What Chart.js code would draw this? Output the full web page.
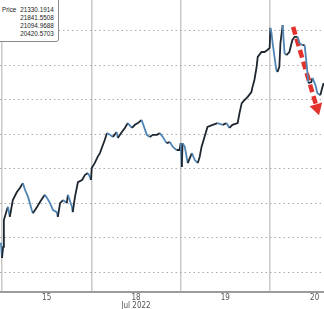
<!DOCTYPE html>
<html>
<head>
<meta charset="utf-8">
<script src="https://cdn.jsdelivr.net/npm/chart.js@4/dist/chart.umd.min.js"></script>
<style>
  html, body { margin: 0; padding: 0; background: #fff; }
  #wrap { position: relative; width: 324px; height: 309px; overflow: hidden; }
  #legendBox {
    position: absolute; left: -3px; top: -3px; width: 62px; height: 45px;
    box-sizing: border-box;
    background: #fff; border: 1px solid #8a8a8a; border-radius: 3px;
  }
  #legendRows {
    position: absolute; left: 4px; top: 8px; width: 63px;
    transform: scaleX(0.82); transform-origin: 0 0;
    font: 7.7px 'Liberation Sans', Arial, sans-serif;
    color: #222; line-height: 8px;
  }
  #legendRows div { text-align: right; height: 8px; }
  #legendRows div.first { display: flex; justify-content: space-between; }
</style>
</head>
<body>
<div id="wrap">
  <canvas id="chart" width="324" height="309"></canvas>
  <div id="legendBox"><div id="legendRows"></div></div>
</div>
<script>
  // session hours since open of Jul 15 (each trading day = 24 units)
  const hours = [
    -0.3, 0.0, 0.3, 0.5, 1.3, 1.6, 2.1, 2.9, 4.0, 4.8, 5.6, 6.2, 7.0, 8.0, 8.3, 9.4, 10.2, 11.5,
    12.1, 12.9, 13.7, 14.7, 15.0, 15.6, 16.4, 17.4, 17.7, 18.8, 19.0, 19.6, 20.4, 21.5, 22.3, 23.1, 23.6, 23.9,
    24.1, 24.9, 25.7, 26.3, 26.8, 27.6, 28.2, 29.0, 29.8, 30.8, 31.1, 32.2, 33.0, 33.8, 34.9, 35.7,
    36.5, 37.5, 37.8, 38.9, 39.7, 40.5, 41.6, 42.4, 43.2, 44.2, 45.1, 45.9, 46.9, 47.7,
    48.0, 48.3, 48.5, 49.1, 49.9, 51.0, 51.8, 52.6, 53.1, 53.6, 54.4, 55.2, 56.6, 57.9, 59.3,
    60.3, 61.1, 61.9, 63.3, 63.8, 64.4, 65.2, 66.0, 67.0, 67.3, 67.8, 68.4, 68.7, 69.7, 70.5, 71.3, 71.9,
    72.1, 72.4, 72.7, 73.2, 73.7, 74.0, 74.5, 74.8, 75.4, 75.6, 75.9, 76.4, 77.2, 78.0, 78.6, 79.4,
    79.9, 80.7, 81.3, 81.8, 82.3, 83.1, 83.4, 84.2, 84.7, 85.5, 86.1, 86.4
  ];
  const prices = [
    20930, 20710, 20870, 21260, 21405, 21450, 21305, 21550, 21665, 21725, 21795, 21695, 21595, 21405, 21360, 21450, 21520, 21625,
    21580, 21505, 21405, 21375, 21305, 21505, 21550, 21505, 21625, 21450, 21375, 21595, 21810, 21840, 21915, 21940, 21885, 21840,
    22015, 22085, 22175, 22230, 22305, 22420, 22520, 22495, 22465, 22535, 22450, 22535, 22595, 22665, 22595, 22640,
    22665, 22710, 22665, 22495, 22465, 22495, 22495, 22520, 22465, 22375, 22390, 22320, 22275, 22275,
    22375, 22030, 22375, 22320, 22085, 22230, 22130, 22085, 22175, 22320, 22465, 22610, 22640, 22665, 22640,
    22665, 22595, 22640, 22665, 22810, 22955, 23000, 23045, 23115, 23190, 23290, 23480, 23625, 23695, 23695, 23725, 23755,
    24045, 23970, 23825, 23625, 23435, 23405, 23480, 23825, 24085, 23915, 23680, 23650, 23695, 23870, 23915, 23915,
    23825, 23795, 23795, 23535, 23245, 23260, 23320, 23215, 23100, 23070, 23190, 23245
  ];

  // red trend arrow (start, head)
  const arrowHours = [78.2, 84.6];
  const arrowPrices = [24058, 22884];

  const dayTicks = [0, 12, 24, 36, 48, 60, 72, 84];
  const dayLabels = { 12: '15', 36: ['18', 'Jul 2022'], 60: '19', 84: '20' };
  const priceTicks = [20500, 21000, 21500, 22000, 22500, 23000, 23500, 24000];

  const legendLabel = 'Price';
  const legendValues = ['21330.1914', '21841.5508', '21094.9688', '20420.5703'];

  const UP = '#1e2630';
  const DOWN = '#4f86b5';
  const FONT = "'Liberation Sans Narrow', 'DejaVu Sans Condensed', sans-serif";

  // legend box
  document.getElementById('legendRows').innerHTML = legendValues.map((v, i) =>
    i === 0 ? `<div class="first"><span>${legendLabel}</span><span>${v}</span></div>` : `<div>${v}</div>`
  ).join('');

  new Chart(document.getElementById('chart').getContext('2d'), {
    type: 'line',
    data: {
      datasets: [
        {
          data: hours.map((h, i) => ({ x: h, y: prices[i] })),
          borderColor: DOWN,
          borderWidth: 1.8,
          pointRadius: 0,
          tension: 0,
          segment: {
            borderColor: ctx => ctx.p1.parsed.y >= ctx.p0.parsed.y ? UP : DOWN
          }
        },
        {
          data: arrowHours.map((h, i) => ({ x: h, y: arrowPrices[i] })),
          borderColor: '#e3312b',
          backgroundColor: '#e3312b',
          borderWidth: 4.5,
          borderDash: [8, 4],
          pointStyle: 'triangle',
          pointRadius: [0, 7.5],
          pointBorderWidth: 0,
          rotation: 163.5,
          clip: false
        }
      ]
    },
    options: {
      responsive: false,
      animation: false,
      layout: { padding: 0, autoPadding: false },
      plugins: { legend: { display: false }, tooltip: { enabled: false } },
      scales: {
        x: {
          type: 'linear',
          min: -0.54,
          max: 86.5,
          afterBuildTicks: s => { s.ticks = dayTicks.map(v => ({ value: v })); },
          afterFit: s => { s.paddingLeft = 0; s.paddingRight = 0; s.height = 17; },
          grid: {
            color: c => (c.tick && c.tick.value % 24 === 0) ? '#c9c9c9' : 'rgba(0,0,0,0)',
            lineWidth: 1.5,
            drawTicks: false
          },
          border: { display: true, color: '#9c9c9c', width: 2 },
          ticks: {
            autoSkip: false,
            maxRotation: 0,
            padding: 2,
            color: '#555',
            font: { family: FONT, size: 8, lineHeight: 1 },
            callback: v => dayLabels[v] || ''
          }
        },
        y: {
          min: 20217,
          max: 24449,
          afterBuildTicks: s => { s.ticks = priceTicks.map(v => ({ value: v })); },
          afterFit: s => { s.width = 0; s.paddingTop = 0; s.paddingBottom = 0; },
          grid: { color: '#ababab', lineWidth: 1, drawTicks: false },
          border: { display: false, dash: [1.5, 3] },
          ticks: { display: false }
        }
      }
    }
  });
</script>
</body>
</html>
